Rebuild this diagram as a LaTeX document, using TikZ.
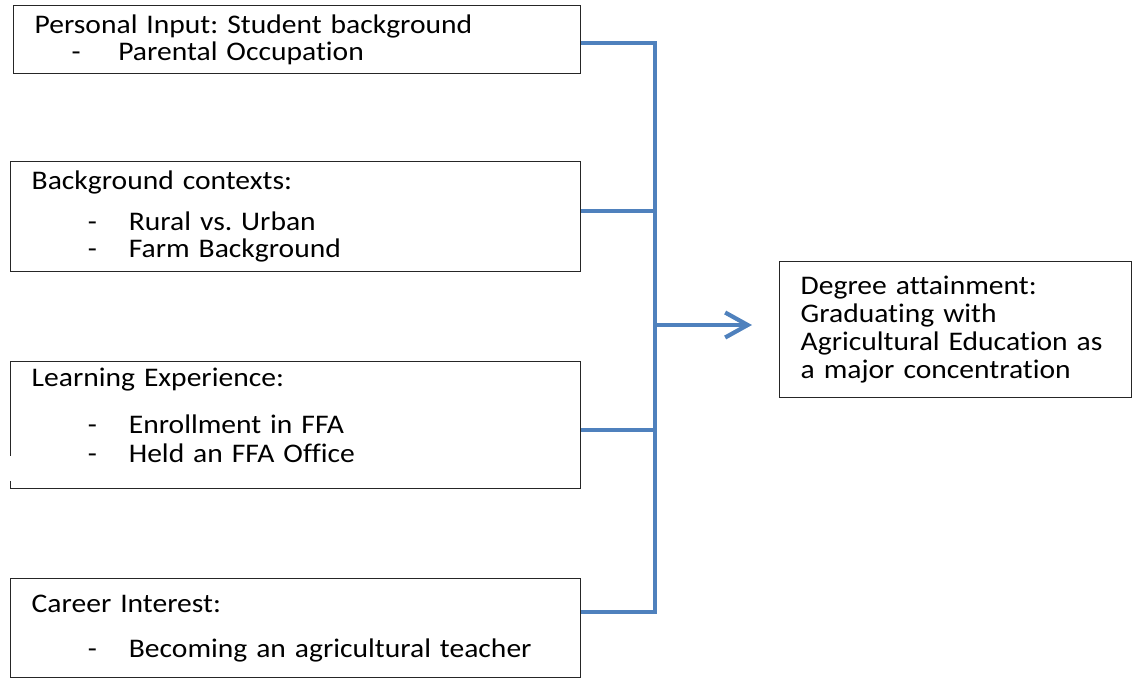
\documentclass[tikz,border=0pt]{standalone}
\usepackage{fontspec}
\setmainfont{Carlito}[FakeStretch=1.1, Ligatures=NoCommon]
\usetikzlibrary{arrows.meta}
\definecolor{linkblue}{RGB}{79,129,189}
\frenchspacing
\newcommand{\dashitem}[1]{\hspace*{32pt}\makebox[23.3pt][l]{-}#1}
\tikzset{
  box/.style={draw=black!85, line width=0.8pt, anchor=north west, align=left,
    inner xsep=0.42cm, inner ysep=0pt, font=\fontsize{15.3}{15.5}\selectfont},
  link/.style={draw=linkblue, line width=2.4pt},
}
\begin{document}
\begin{tikzpicture}[x=0.02cm, y=-0.02cm]
\useasboundingbox (0,0) rectangle (1133,681);
% input boxes
\node[box, text width=10.5cm, minimum height=1.36cm] (b1) at (13,5)
  {Personal Input: Student background\\
   \hspace*{21pt}\makebox[26.6pt][l]{-}Parental Occupation};
\node[box, text width=10.56cm, minimum height=2.2cm] (b2) at (10,161)
  {Background contexts:\\[8pt]
   \dashitem{Rural vs. Urban}\\
   \dashitem{Farm Background}};
\node[box, text width=10.56cm, minimum height=2.54cm] (b3) at (10,361)
  {Learning Experience:\\[11pt]
   \dashitem{Enrollment in FFA}\\[1pt]
   \dashitem{Held an FFA Office}\\[-4pt]\mbox{}};
\draw[white, line width=2pt] (10,456) -- (10,481);
\node[box, text width=10.56cm, minimum height=1.98cm] (b4) at (10,578)
  {Career Interest:\\[10pt]
   \dashitem{Becoming an agricultural teacher}};
% outcome
\node[box, text width=6.2cm, minimum height=2.72cm,
  font=\fontsize{15.3}{16}\selectfont] (goal) at (779,261)
  {Degree attainment:\\ Graduating with\\ Agricultural Education as\\ a major concentration};
% connectors
\coordinate (j1) at (655,43);
\coordinate (j2) at (655,211);
\coordinate (j3) at (655,430);
\coordinate (j4) at (655,612);
\coordinate (jout) at (655,325);
\draw[link] (b1.east |- j1) -- (j1) -- (j4) -- (b4.east |- j4);
\draw[link] (b2.east |- j2) -- (j2);
\draw[link] (b3.east |- j3) -- (j3);
\draw[link, -{Straight Barb[length=0.45cm, width=0.5cm]}, shorten >=0.54cm]
  (jout) -- (goal.west |- jout);
\end{tikzpicture}
\end{document}
